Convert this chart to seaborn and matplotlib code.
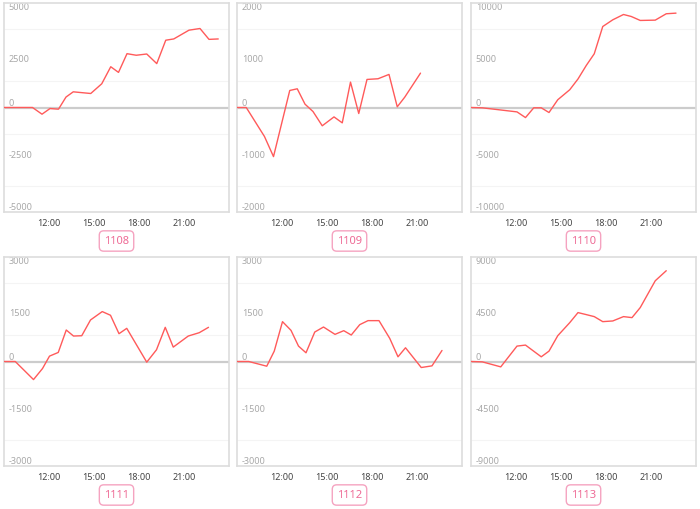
import matplotlib
matplotlib.use("Agg")
import matplotlib.pyplot as plt
import seaborn as sns
import pandas as pd

# ---------------- data ----------------
codes = ["1108", "1109", "1110", "1111", "1112", "1113"]
y_limits = [5000, 2000, 10000, 3000, 3000, 9000]

t1108 = ["09:00", "09:45", "10:54", "11:32", "12:04", "12:38", "13:08", "13:37", "14:47", "15:31", "16:07",
         "16:38", "17:12", "17:49", "18:31", "19:11", "19:47", "20:19", "21:20", "22:04", "22:40", "23:17"]
v1108 = [0, 0, 0, -320, -50, -80, 500, 750, 670, 1135, 1950,
         1680, 2575, 2500, 2560, 2100, 3220, 3280, 3700, 3780, 3260, 3280]

t1109 = ["09:00", "09:37", "10:50", "11:26", "12:31", "13:01", "13:32", "14:04", "14:41", "15:28", "16:01",
         "16:34", "17:07", "17:40", "18:24", "19:08", "19:41", "20:11", "21:14"]
v1109 = [0, 0, -556, -940, 326, 358, 64, -77, -350, -180, -294,
         486, -115, 537, 550, 633, 13, 198, 658]

t1110 = ["09:00", "09:45", "12:04", "12:38", "13:11", "13:41", "14:12", "14:47", "15:35", "16:08", "16:41",
         "17:13", "17:47", "18:27", "19:10", "19:41", "20:17", "21:17", "22:01", "22:40"]
v1110 = [0, -30, -420, -965, -30, -30, -480, 740, 1700, 2730, 4020,
         5140, 7750, 8390, 8900, 8710, 8330, 8360, 8970, 9030]

t1111 = ["09:00", "09:45", "10:58", "11:34", "12:02", "12:37", "13:09", "13:38", "14:11", "14:46", "15:33",
         "16:06", "16:40", "17:11", "18:31", "19:10", "19:45", "20:17", "21:17", "22:01", "22:38"]
v1111 = [0, 0, -519, -202, 154, 260, 904, 731, 740, 1192, 1433,
         1327, 798, 952, -19, 337, 981, 413, 731, 827, 981]

t1112 = ["09:00", "09:47", "10:59", "11:29", "12:02", "12:36", "13:06", "13:36", "14:11", "14:46", "15:32",
         "16:07", "16:37", "17:11", "17:44", "18:28", "19:11", "19:44", "20:14", "21:17", "22:00", "22:40"]
v1112 = [0, 0, -135, 298, 1144, 894, 442, 250, 846, 990, 779,
         885, 760, 1058, 1173, 1173, 663, 135, 394, -173, -125, 317]

t1113 = ["09:00", "09:45", "10:59", "12:04", "12:38", "13:41", "14:12", "14:47", "15:35", "16:08", "16:41",
         "17:13", "17:47", "18:27", "19:10", "19:44", "20:17", "21:17", "22:01"]
v1113 = [0, -29, -462, 1327, 1414, 404, 894, 2221, 3347, 4212, 4039,
         3866, 3433, 3491, 3866, 3779, 4645, 6953, 7818]

x_tick_hours = [12, 15, 18, 21]
x_tick_labels = ["12:00", "15:00", "18:00", "21:00"]

series = {
    "1108": (t1108, v1108), "1109": (t1109, v1109), "1110": (t1110, v1110),
    "1111": (t1111, v1111), "1112": (t1112, v1112), "1113": (t1113, v1113),
}


def to_hours(ts):
    out = []
    for s in ts:
        h, m = s.split(":")
        out.append(int(h) + int(m) / 60.0)
    return out


# ---------------- style ----------------
sns.set_style("white")
plt.rcParams["font.family"] = ["Noto Sans", "DejaVu Sans"]

W, H = 700, 509
fig = plt.figure(figsize=(W / 100, H / 100), dpi=100)

col_left = [4, 237, 471]
row_top = [3, 257]
aw, ah = 225, 209

LINE = "#ff5a5a"
for i, code in enumerate(codes):
    r, c = divmod(i, 3)
    left = col_left[c]
    top = row_top[r]
    ax = fig.add_axes([left / W, 1 - (top + ah) / H, aw / W, ah / H])
    ts, vs = series[code]
    df = pd.DataFrame({"hour": to_hours(ts), "value": vs})
    M = y_limits[i]

    ax.axhline(0, color="#cccccc", lw=1.6, zorder=1)
    sns.lineplot(data=df, x="hour", y="value", ax=ax, color=LINE, lw=1.0,
                 estimator=None, sort=False, zorder=3)

    ax.set_xlim(9, 24)
    ax.set_ylim(-M, M)
    ax.set_xlabel("")
    ax.set_ylabel("")

    ax.set_xticks(x_tick_hours)
    ax.set_xticklabels(x_tick_labels)
    ax.tick_params(axis="x", length=3, width=0.8, color="#cccccc", labelsize=6.5,
                   labelcolor="#444444", pad=2)

    yt = [M, M / 2, 0, -M / 2, -M]
    ax.set_yticks(yt)
    ax.set_yticklabels([f"{int(v)}" for v in yt])
    ax.tick_params(axis="y", length=0, labelsize=6.5, labelcolor="#a8a8a8", pad=-3.5)
    for lab, v in zip(ax.get_yticklabels(), yt):
        lab.set_horizontalalignment("left")
        lab.set_verticalalignment("top" if v > 0 else "bottom")

    ax.set_yticks([3 * M / 4, M / 4, -M / 4, -3 * M / 4], minor=True)
    ax.tick_params(axis="y", which="minor", length=0)
    ax.grid(False)
    ax.grid(True, which="minor", axis="y", color="#f4f4f4", lw=0.8, zorder=0)

    for sp in ax.spines.values():
        sp.set_color("#dddddd")
        sp.set_linewidth(1.2)

    # code label box under the panel
    cx = (left + aw / 2) / W
    cy = 1 - (top + ah + 29) / H
    fig.text(cx, cy, code, ha="center", va="center", fontsize=8, color="#ee6a95",
             bbox=dict(boxstyle="round,pad=0.42,rounding_size=0.4", fc="white",
                       ec="#f5a3c0", lw=1.0))

fig.savefig("out.png", dpi=100)
